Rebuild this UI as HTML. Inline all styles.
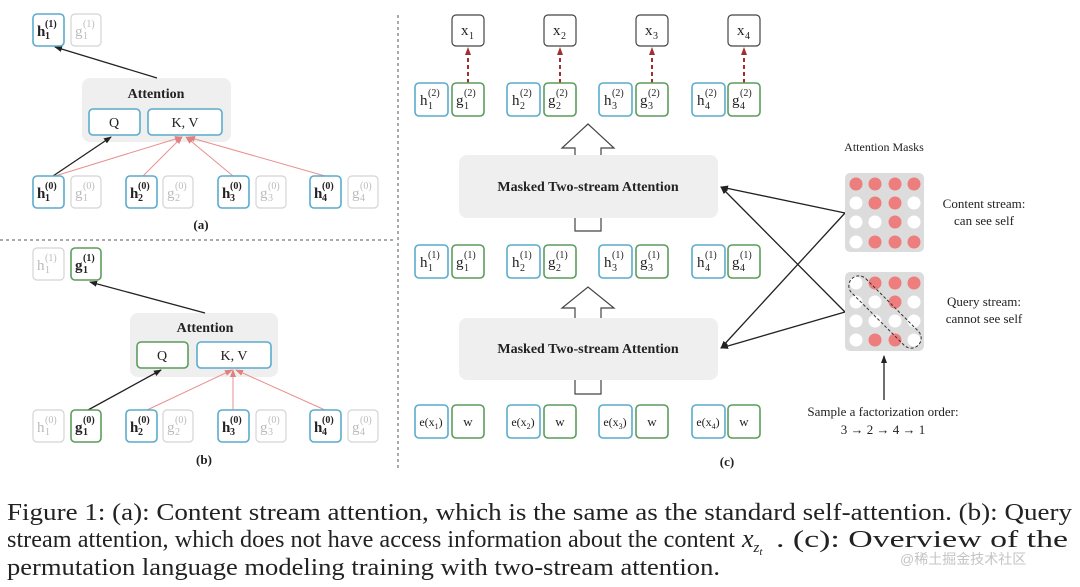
<!DOCTYPE html>
<html><head><meta charset="utf-8"><style>
html,body{margin:0;padding:0;background:#fff;width:1080px;height:587px;overflow:hidden}
svg{display:block}
text{font-family:"Liberation Serif",serif;fill:#222}
.b{fill:#fff;stroke:#5aaccc;stroke-width:1.6}
.g{fill:#fff;stroke:#5c9c5c;stroke-width:1.6}
.n{fill:#fff;stroke:#d4d4d4;stroke-width:1.2}
.k{fill:#fff;stroke:#444;stroke-width:1.2}
.gr text,.gr{fill:#bbb}
.L{font-size:15px}.S{font-size:10px}
.bd{font-weight:bold}
</style></head><body>
<svg width="1080" height="587" viewBox="0 0 1080 587">
<defs>
<marker id="ab" markerWidth="8" markerHeight="8" refX="7" refY="4" orient="auto" markerUnits="userSpaceOnUse"><path d="M0,1 L8,4 L0,7 z" fill="#222"/></marker>
<marker id="ar" markerWidth="8" markerHeight="8" refX="7" refY="4" orient="auto" markerUnits="userSpaceOnUse"><path d="M0,1 L8,4 L0,7 z" fill="#e08080"/></marker>
<marker id="ad" markerWidth="8" markerHeight="8" refX="7" refY="4" orient="auto" markerUnits="userSpaceOnUse"><path d="M0,1 L8,4 L0,7 z" fill="#a03030"/></marker>
</defs>

<line x1="0" y1="240" x2="395" y2="240" stroke="#555" stroke-dasharray="3,3"/>
<line x1="398" y1="15" x2="398" y2="470" stroke="#555" stroke-dasharray="3,3"/>

<!-- (a) -->
<rect x="82" y="78" width="149" height="64" rx="8" fill="#efefef"/>
<text x="156" y="98" font-size="14" font-weight="bold" text-anchor="middle">Attention</text>
<rect class="b" x="89" y="109" width="51" height="26" rx="4"/><text x="114" y="127" font-size="14" text-anchor="middle">Q</text>
<rect class="b" x="148" y="109" width="74" height="26" rx="4"/><text x="185" y="127" font-size="14" text-anchor="middle">K, V</text>
<line x1="157" y1="78" x2="55" y2="47" stroke="#222" stroke-width="1.3" marker-end="url(#ab)"/>
<line x1="53" y1="176" x2="111" y2="137" stroke="#222" stroke-width="1.3" marker-end="url(#ab)"/>
<g stroke="#e89090" stroke-width="1" marker-end="url(#ar)">
<line x1="55" y1="176" x2="182" y2="137"/><line x1="143" y1="176" x2="182" y2="137"/><line x1="233" y1="176" x2="186" y2="137"/><line x1="325" y1="176" x2="188" y2="137"/></g>
<rect class="b" x="33" y="14" width="31" height="32" rx="4"/><g class="bd"><text class="L" x="37" y="36">h</text><text class="S" x="45" y="27">(1)</text><text class="S" x="45" y="39">1</text></g>
<rect class="n" x="71" y="14" width="30" height="32" rx="4"/><g class="gr"><text class="L" x="75" y="36">g</text><text class="S" x="83" y="27">(1)</text><text class="S" x="83" y="39">1</text></g>
<rect class="b" x="33" y="176" width="31" height="32" rx="4"/><g class="bd"><text class="L" x="37" y="198">h</text><text class="S" x="45" y="189">(0)</text><text class="S" x="45" y="201">1</text></g>
<rect class="n" x="71" y="176" width="30" height="32" rx="4"/><g class="gr"><text class="L" x="75" y="198">g</text><text class="S" x="83" y="189">(0)</text><text class="S" x="83" y="201">1</text></g>
<rect class="b" x="126" y="176" width="31" height="32" rx="4"/><g class="bd"><text class="L" x="130" y="198">h</text><text class="S" x="138" y="189">(0)</text><text class="S" x="138" y="201">2</text></g>
<rect class="n" x="163" y="176" width="30" height="32" rx="4"/><g class="gr"><text class="L" x="167" y="198">g</text><text class="S" x="175" y="189">(0)</text><text class="S" x="175" y="201">2</text></g>
<rect class="b" x="218" y="176" width="31" height="32" rx="4"/><g class="bd"><text class="L" x="222" y="198">h</text><text class="S" x="230" y="189">(0)</text><text class="S" x="230" y="201">3</text></g>
<rect class="n" x="256" y="176" width="30" height="32" rx="4"/><g class="gr"><text class="L" x="260" y="198">g</text><text class="S" x="268" y="189">(0)</text><text class="S" x="268" y="201">3</text></g>
<rect class="b" x="310" y="176" width="31" height="32" rx="4"/><g class="bd"><text class="L" x="314" y="198">h</text><text class="S" x="322" y="189">(0)</text><text class="S" x="322" y="201">4</text></g>
<rect class="n" x="348" y="176" width="30" height="32" rx="4"/><g class="gr"><text class="L" x="352" y="198">g</text><text class="S" x="360" y="189">(0)</text><text class="S" x="360" y="201">4</text></g>
<text x="201" y="229" font-size="13" font-weight="bold" text-anchor="middle">(a)</text>

<!-- (b) -->
<rect x="130" y="313" width="148" height="64" rx="8" fill="#efefef"/>
<text x="205" y="332" font-size="14" font-weight="bold" text-anchor="middle">Attention</text>
<rect class="g" x="137" y="342" width="51" height="26" rx="4"/><text x="162" y="360" font-size="14" text-anchor="middle">Q</text>
<rect class="b" x="197" y="342" width="74" height="26" rx="4"/><text x="234" y="360" font-size="14" text-anchor="middle">K, V</text>
<line x1="205" y1="313" x2="90" y2="282" stroke="#222" stroke-width="1.3" marker-end="url(#ab)"/>
<line x1="88" y1="410" x2="161" y2="370" stroke="#222" stroke-width="1.3" marker-end="url(#ab)"/>
<g stroke="#e89090" stroke-width="1" marker-end="url(#ar)">
<line x1="147" y1="410" x2="232" y2="370"/><line x1="233" y1="410" x2="233" y2="370"/><line x1="325" y1="410" x2="236" y2="370"/></g>
<rect class="n" x="33" y="248" width="31" height="32" rx="4"/><g class="gr"><text class="L" x="37" y="270">h</text><text class="S" x="45" y="261">(1)</text><text class="S" x="45" y="273">1</text></g>
<rect class="g" x="71" y="248" width="30" height="32" rx="4"/><g class="bd"><text class="L" x="75" y="270">g</text><text class="S" x="83" y="261">(1)</text><text class="S" x="83" y="273">1</text></g>
<rect class="n" x="33" y="410" width="31" height="32" rx="4"/><g class="gr"><text class="L" x="37" y="432">h</text><text class="S" x="45" y="423">(0)</text><text class="S" x="45" y="435">1</text></g>
<rect class="g" x="71" y="410" width="30" height="32" rx="4"/><g class="bd"><text class="L" x="75" y="432">g</text><text class="S" x="83" y="423">(0)</text><text class="S" x="83" y="435">1</text></g>
<rect class="b" x="126" y="410" width="31" height="32" rx="4"/><g class="bd"><text class="L" x="130" y="432">h</text><text class="S" x="138" y="423">(0)</text><text class="S" x="138" y="435">2</text></g>
<rect class="n" x="163" y="410" width="30" height="32" rx="4"/><g class="gr"><text class="L" x="167" y="432">g</text><text class="S" x="175" y="423">(0)</text><text class="S" x="175" y="435">2</text></g>
<rect class="b" x="218" y="410" width="31" height="32" rx="4"/><g class="bd"><text class="L" x="222" y="432">h</text><text class="S" x="230" y="423">(0)</text><text class="S" x="230" y="435">3</text></g>
<rect class="n" x="256" y="410" width="30" height="32" rx="4"/><g class="gr"><text class="L" x="260" y="432">g</text><text class="S" x="268" y="423">(0)</text><text class="S" x="268" y="435">3</text></g>
<rect class="b" x="310" y="410" width="31" height="32" rx="4"/><g class="bd"><text class="L" x="314" y="432">h</text><text class="S" x="322" y="423">(0)</text><text class="S" x="322" y="435">4</text></g>
<rect class="n" x="348" y="410" width="30" height="32" rx="4"/><g class="gr"><text class="L" x="352" y="432">g</text><text class="S" x="360" y="423">(0)</text><text class="S" x="360" y="435">4</text></g>
<text x="204" y="464" font-size="13" font-weight="bold" text-anchor="middle">(b)</text>

<!-- (c) -->
<rect class="k" x="452" y="15" width="32" height="31" rx="4"/><text class="L" x="461" y="35">x</text><text class="S" x="469" y="39">1</text>
<rect class="k" x="544" y="15" width="32" height="31" rx="4"/><text class="L" x="553" y="35">x</text><text class="S" x="561" y="39">2</text>
<rect class="k" x="636" y="15" width="32" height="31" rx="4"/><text class="L" x="645" y="35">x</text><text class="S" x="653" y="39">3</text>
<rect class="k" x="728" y="15" width="32" height="31" rx="4"/><text class="L" x="737" y="35">x</text><text class="S" x="745" y="39">4</text>
<g stroke="#a03030" stroke-width="2" stroke-dasharray="4,3" marker-end="url(#ad)">
<line x1="468" y1="83" x2="468" y2="48"/><line x1="560" y1="83" x2="560" y2="48"/><line x1="652" y1="83" x2="652" y2="48"/><line x1="744" y1="83" x2="744" y2="48"/></g>

<rect class="b" x="415" y="83" width="33" height="33" rx="4"/><text class="L" x="420" y="105">h</text><text class="S" x="428" y="96">(2)</text><text class="S" x="428" y="109">1</text>
<rect class="g" x="452" y="83" width="32" height="33" rx="4"/><text class="L" x="456" y="105">g</text><text class="S" x="464" y="96">(2)</text><text class="S" x="464" y="109">1</text>
<rect class="b" x="507" y="83" width="33" height="33" rx="4"/><text class="L" x="512" y="105">h</text><text class="S" x="520" y="96">(2)</text><text class="S" x="520" y="109">2</text>
<rect class="g" x="544" y="83" width="32" height="33" rx="4"/><text class="L" x="548" y="105">g</text><text class="S" x="556" y="96">(2)</text><text class="S" x="556" y="109">2</text>
<rect class="b" x="599" y="83" width="33" height="33" rx="4"/><text class="L" x="604" y="105">h</text><text class="S" x="612" y="96">(2)</text><text class="S" x="612" y="109">3</text>
<rect class="g" x="636" y="83" width="32" height="33" rx="4"/><text class="L" x="640" y="105">g</text><text class="S" x="648" y="96">(2)</text><text class="S" x="648" y="109">3</text>
<rect class="b" x="692" y="83" width="33" height="33" rx="4"/><text class="L" x="697" y="105">h</text><text class="S" x="705" y="96">(2)</text><text class="S" x="705" y="109">4</text>
<rect class="g" x="728" y="83" width="32" height="33" rx="4"/><text class="L" x="732" y="105">g</text><text class="S" x="740" y="96">(2)</text><text class="S" x="740" y="109">4</text>

<rect class="b" x="415" y="245" width="33" height="33" rx="4"/><text class="L" x="420" y="267">h</text><text class="S" x="428" y="258">(1)</text><text class="S" x="428" y="271">1</text>
<rect class="g" x="452" y="245" width="32" height="33" rx="4"/><text class="L" x="456" y="267">g</text><text class="S" x="464" y="258">(1)</text><text class="S" x="464" y="271">1</text>
<rect class="b" x="507" y="245" width="33" height="33" rx="4"/><text class="L" x="512" y="267">h</text><text class="S" x="520" y="258">(1)</text><text class="S" x="520" y="271">2</text>
<rect class="g" x="544" y="245" width="32" height="33" rx="4"/><text class="L" x="548" y="267">g</text><text class="S" x="556" y="258">(1)</text><text class="S" x="556" y="271">2</text>
<rect class="b" x="599" y="245" width="33" height="33" rx="4"/><text class="L" x="604" y="267">h</text><text class="S" x="612" y="258">(1)</text><text class="S" x="612" y="271">3</text>
<rect class="g" x="636" y="245" width="32" height="33" rx="4"/><text class="L" x="640" y="267">g</text><text class="S" x="648" y="258">(1)</text><text class="S" x="648" y="271">3</text>
<rect class="b" x="692" y="245" width="33" height="33" rx="4"/><text class="L" x="697" y="267">h</text><text class="S" x="705" y="258">(1)</text><text class="S" x="705" y="271">4</text>
<rect class="g" x="728" y="245" width="32" height="33" rx="4"/><text class="L" x="732" y="267">g</text><text class="S" x="740" y="258">(1)</text><text class="S" x="740" y="271">4</text>

<rect class="b" x="415" y="405" width="33" height="33" rx="4"/><text x="431" y="426" font-size="12" text-anchor="middle">e(x<tspan font-size="8" dy="3">1</tspan><tspan dy="-3">)</tspan></text>
<rect class="g" x="452" y="405" width="32" height="33" rx="4"/><text x="468" y="426" font-size="13" text-anchor="middle">w</text>
<rect class="b" x="507" y="405" width="33" height="33" rx="4"/><text x="523" y="426" font-size="12" text-anchor="middle">e(x<tspan font-size="8" dy="3">2</tspan><tspan dy="-3">)</tspan></text>
<rect class="g" x="544" y="405" width="32" height="33" rx="4"/><text x="560" y="426" font-size="13" text-anchor="middle">w</text>
<rect class="b" x="599" y="405" width="33" height="33" rx="4"/><text x="615" y="426" font-size="12" text-anchor="middle">e(x<tspan font-size="8" dy="3">3</tspan><tspan dy="-3">)</tspan></text>
<rect class="g" x="636" y="405" width="32" height="33" rx="4"/><text x="652" y="426" font-size="13" text-anchor="middle">w</text>
<rect class="b" x="692" y="405" width="33" height="33" rx="4"/><text x="708" y="426" font-size="12" text-anchor="middle">e(x<tspan font-size="8" dy="3">4</tspan><tspan dy="-3">)</tspan></text>
<rect class="g" x="728" y="405" width="32" height="33" rx="4"/><text x="744" y="426" font-size="13" text-anchor="middle">w</text>

<path d="M575,160 L575,148 L562,148 L588,124 L614,148 L601,148 L601,160" fill="#fff" stroke="#444" stroke-width="1.2"/>
<path d="M575,320 L575,308 L562,308 L588,287 L614,308 L601,308 L601,320" fill="#fff" stroke="#444" stroke-width="1.2"/>
<rect x="459" y="155" width="259" height="63" rx="8" fill="#efefef"/>
<text x="588" y="191" font-size="14" font-weight="bold" text-anchor="middle">Masked Two-stream Attention</text>
<path d="M575,218 L575,231 L601,231 L601,218" fill="none" stroke="#444" stroke-width="1.2"/>
<rect x="459" y="318" width="259" height="62" rx="8" fill="#efefef"/>
<text x="588" y="353" font-size="14" font-weight="bold" text-anchor="middle">Masked Two-stream Attention</text>
<path d="M575,380 L575,394 L601,394 L601,380" fill="none" stroke="#444" stroke-width="1.2"/>
<text x="727" y="466" font-size="13" font-weight="bold" text-anchor="middle">(c)</text>

<g stroke="#222" stroke-width="1.3" marker-end="url(#ab)">
<line x1="845" y1="213" x2="721" y2="187"/><line x1="845" y1="213" x2="721" y2="348"/>
<line x1="845" y1="312" x2="721" y2="187"/><line x1="845" y1="312" x2="721" y2="348"/></g>

<text x="884" y="151" font-size="12" text-anchor="middle">Attention Masks</text>
<rect x="845" y="173" width="79" height="79" rx="5" fill="#dcdcdc"/>
<rect x="845" y="272" width="79" height="79" rx="5" fill="#dcdcdc"/>
<g fill="#ee7d7d">
<circle cx="856" cy="184" r="6.5"/><circle cx="875" cy="184" r="6.5"/><circle cx="895" cy="184" r="6.5"/><circle cx="914" cy="184" r="6.5"/>
<circle cx="875" cy="203" r="6.5"/><circle cx="895" cy="203" r="6.5"/>
<circle cx="895" cy="222" r="6.5"/>
<circle cx="875" cy="242" r="6.5"/><circle cx="895" cy="242" r="6.5"/><circle cx="914" cy="242" r="6.5"/>
<circle cx="875" cy="283" r="6.5"/><circle cx="895" cy="283" r="6.5"/><circle cx="914" cy="283" r="6.5"/>
<circle cx="895" cy="302" r="6.5"/>
<circle cx="875" cy="340" r="6.5"/><circle cx="895" cy="340" r="6.5"/>
</g>
<g fill="#fff">
<circle cx="856" cy="203" r="6.5"/><circle cx="914" cy="203" r="6.5"/>
<circle cx="856" cy="222" r="6.5"/><circle cx="875" cy="222" r="6.5"/><circle cx="914" cy="222" r="6.5"/>
<circle cx="856" cy="242" r="6.5"/>
<circle cx="856" cy="283" r="6.5"/>
<circle cx="856" cy="302" r="6.5"/><circle cx="875" cy="302" r="6.5"/><circle cx="914" cy="302" r="6.5"/>
<circle cx="856" cy="321" r="6.5"/><circle cx="875" cy="321" r="6.5"/><circle cx="895" cy="321" r="6.5"/><circle cx="914" cy="321" r="6.5"/>
<circle cx="856" cy="340" r="6.5"/><circle cx="914" cy="340" r="6.5"/>
</g>
<rect x="838" y="302" width="94" height="20" rx="10" fill="none" stroke="#333" stroke-width="1" stroke-dasharray="3,2" transform="rotate(45 885 312)"/>
<text x="984" y="208" font-size="13" text-anchor="middle">Content stream:</text>
<text x="984" y="225" font-size="13" text-anchor="middle">can see self</text>
<text x="984" y="306" font-size="13" text-anchor="middle">Query stream:</text>
<text x="984" y="323" font-size="13" text-anchor="middle">cannot see self</text>
<line x1="884" y1="400" x2="884" y2="356" stroke="#222" stroke-width="1.3" marker-end="url(#ab)"/>
<text x="883" y="416" font-size="13" text-anchor="middle">Sample a factorization order:</text>
<text x="883" y="434" font-size="13" text-anchor="middle">3 → 2 → 4 → 1</text>

<g font-size="24">
<text x="7" y="520" textLength="1065" lengthAdjust="spacingAndGlyphs">Figure 1: (a): Content stream attention, which is the same as the standard self-attention. (b): Query</text>
<text x="7" y="547" textLength="728" lengthAdjust="spacingAndGlyphs">stream attention, which does not have access information about the content</text>
<text x="742" y="547" font-size="26" font-style="italic">x<tspan font-size="15" dy="5">z</tspan><tspan font-size="11" dy="3">t</tspan></text>
<text x="776" y="547" textLength="292" lengthAdjust="spacingAndGlyphs">. (c): Overview of the</text>
<text x="7" y="575" textLength="713" lengthAdjust="spacingAndGlyphs">permutation language modeling training with two-stream attention.</text>
</g>
<text x="900" y="564" font-size="14" style="fill:#c4c4c4;font-family:'Liberation Sans','Noto Sans CJK SC',sans-serif">@稀土掘金技术社区</text>
</svg>
</body></html>
